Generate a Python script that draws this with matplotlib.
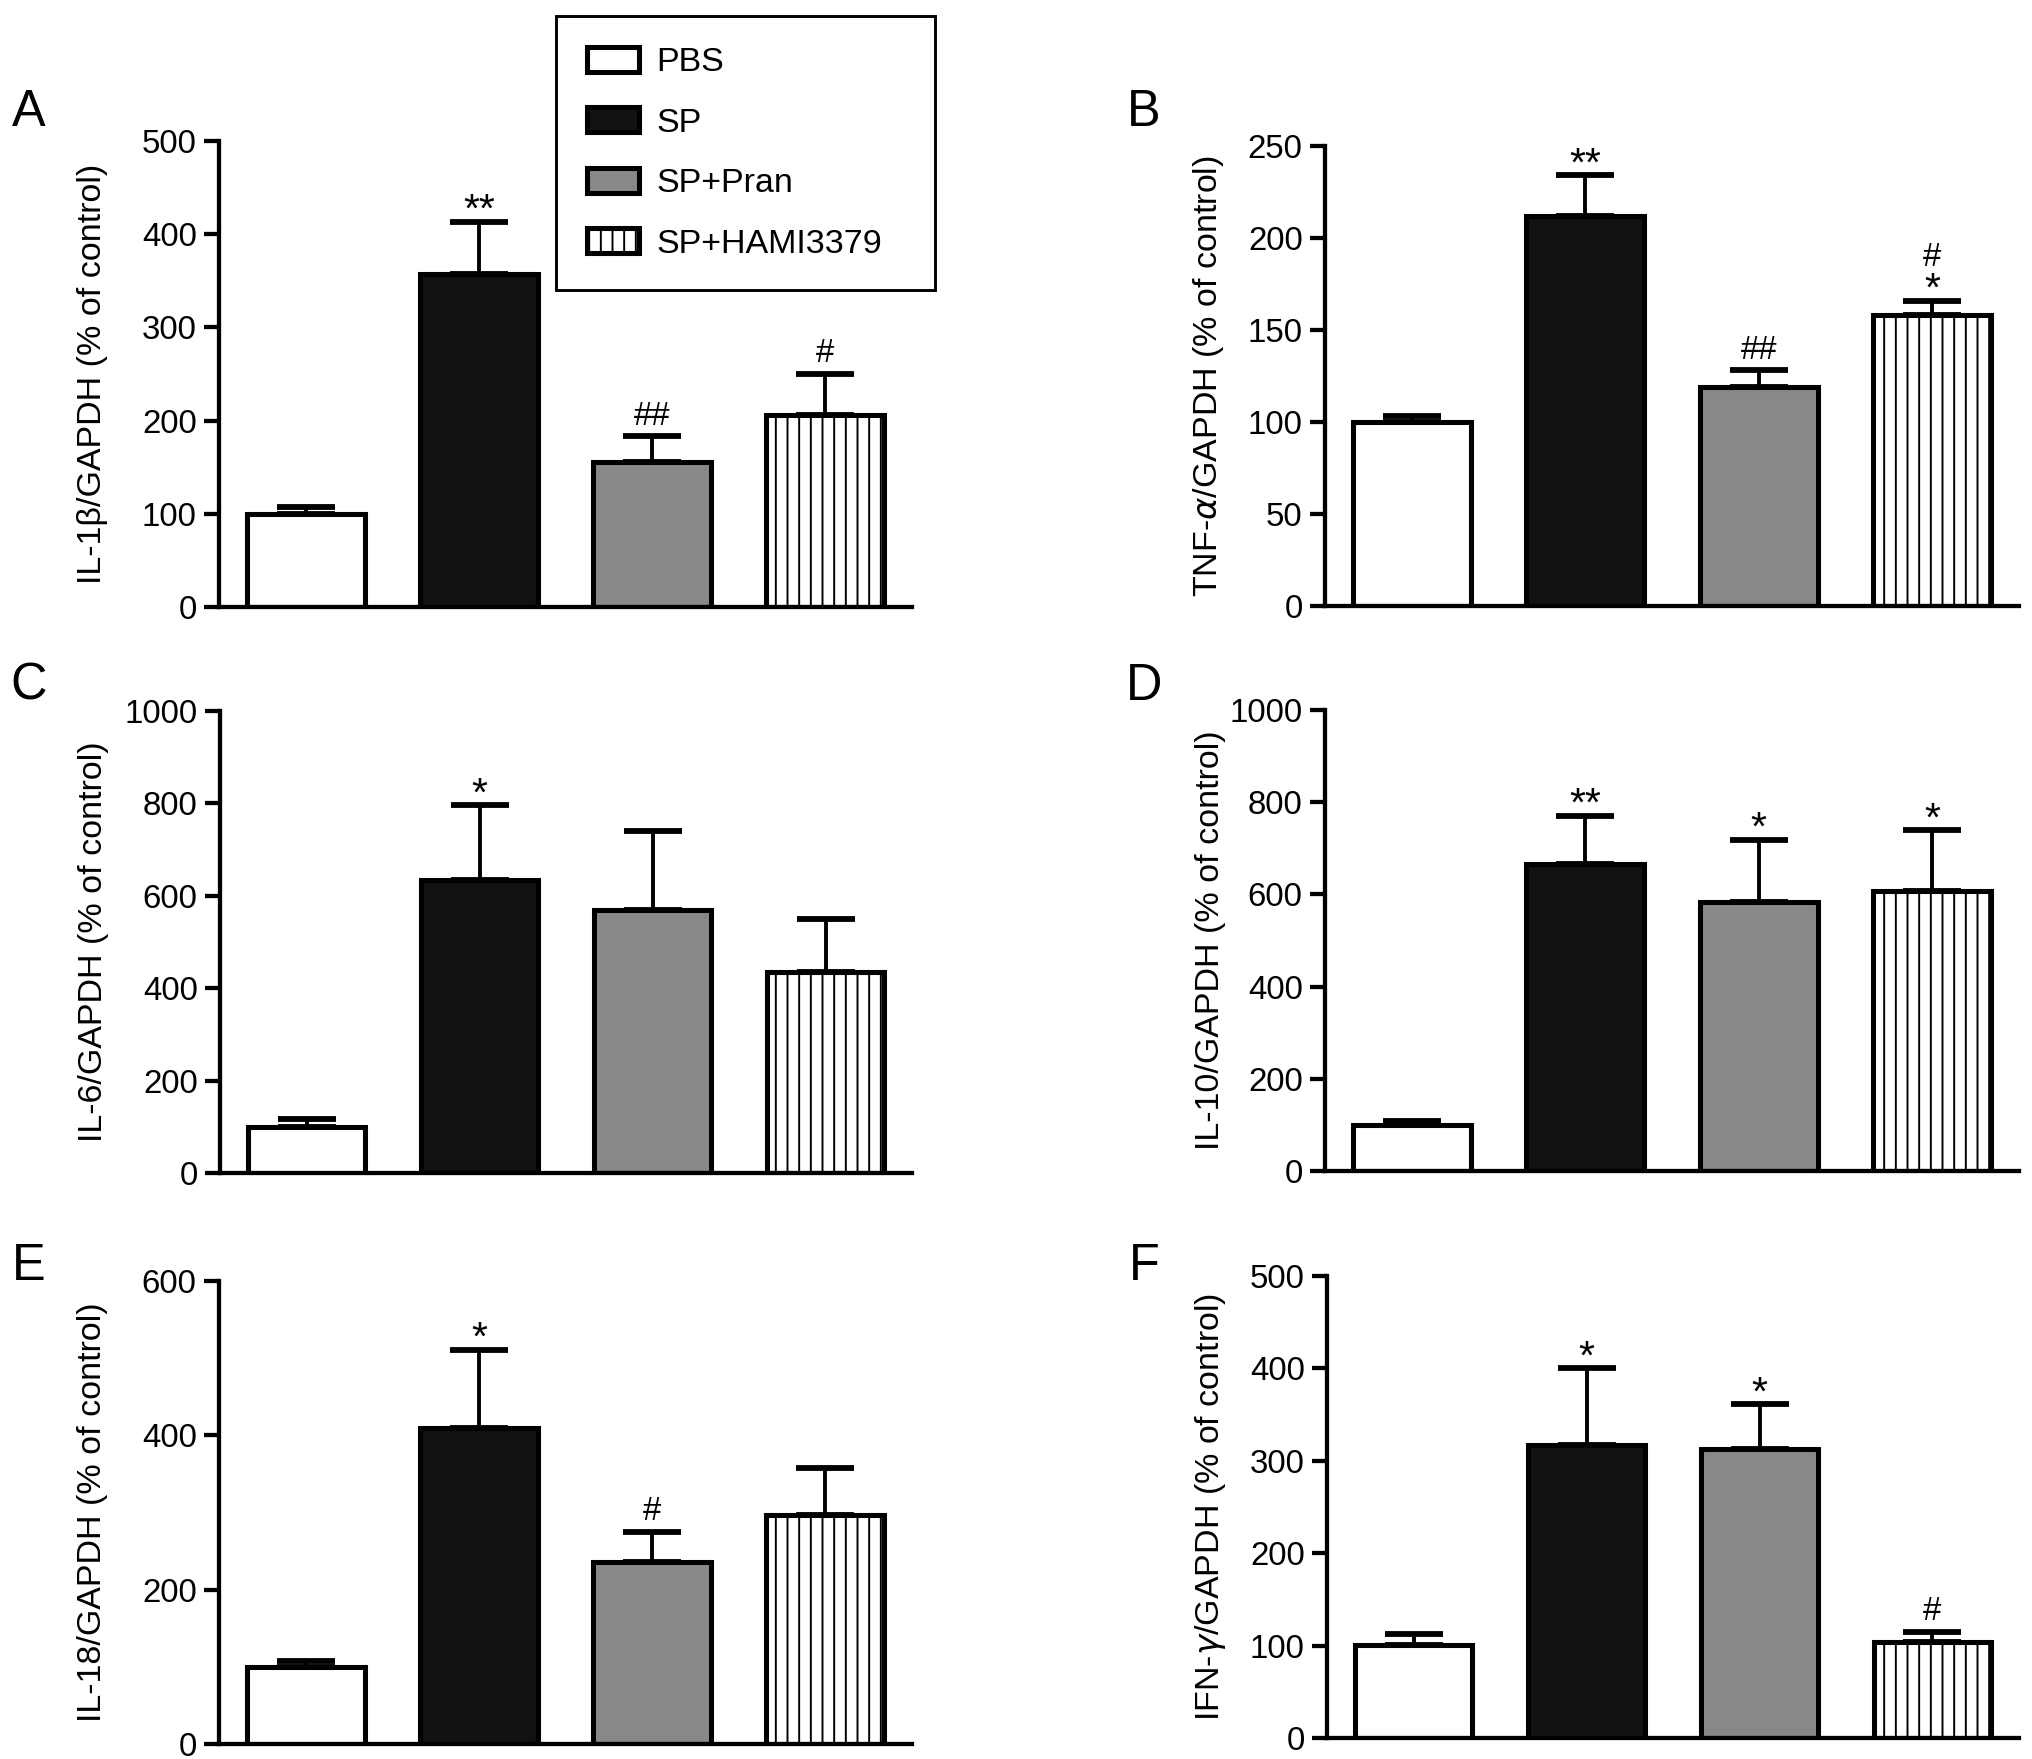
import numpy as np
import matplotlib.pyplot as plt

plt.rcParams['font.family'] = ['Liberation Sans', 'DejaVu Sans']
plt.rcParams['hatch.linewidth'] = 1.0
plt.rcParams['mathtext.fontset'] = 'dejavusans'

groups = ['PBS', 'SP', 'SP+Pran', 'SP+HAMI3379']

il1b_mean = [100, 357, 156, 206]
il1b_err = [7, 56, 27, 44]
tnf_mean = [100, 212, 119, 158]
tnf_err = [3, 22, 9, 8]
il6_mean = [100, 634, 570, 434]
il6_err = [17, 162, 171, 115]
il10_mean = [100, 667, 584, 608]
il10_err = [9, 103, 135, 131]
il18_mean = [100, 409, 236, 297]
il18_err = [8, 102, 39, 61]
ifng_mean = [101, 317, 313, 104]
ifng_err = [12, 83, 48, 11]

# significance marks, bottom line first
il1b_sig = [[], ['**'], ['##'], ['#']]
tnf_sig = [[], ['**'], ['##'], ['*', '#']]
il6_sig = [[], ['*'], [], []]
il10_sig = [[], ['**'], ['*'], ['*']]
il18_sig = [[], ['*'], ['#'], []]
ifng_sig = [[], ['*'], ['*'], ['#']]

ylabels = ['IL-1β/GAPDH (% of control)', r'TNF-$\alpha$/GAPDH (% of control)',
           'IL-6/GAPDH (% of control)', 'IL-10/GAPDH (% of control)',
           'IL-18/GAPDH (% of control)', r'IFN-$\gamma$/GAPDH (% of control)']
yticks = [np.arange(0, 501, 100), np.arange(0, 251, 50), np.arange(0, 1001, 200),
          np.arange(0, 1001, 200), np.arange(0, 601, 200), np.arange(0, 501, 100)]
letters = ['A', 'B', 'C', 'D', 'E', 'F']

means = [il1b_mean, tnf_mean, il6_mean, il10_mean, il18_mean, ifng_mean]
errs = [il1b_err, tnf_err, il6_err, il10_err, il18_err, ifng_err]
sigs = [il1b_sig, tnf_sig, il6_sig, il10_sig, il18_sig, ifng_sig]

fills = ['white', '#111111', '#888888', 'white']
hatches = [None, None, None, '||']

W, H = 2032, 1759
fig = plt.figure(figsize=(W / 140, H / 140), dpi=140)

# axes boxes in pixels: left, right, top, bottom
boxes = [(219, 912, 141, 607), (1325, 2019, 146, 606),
         (220, 912, 711, 1173), (1325, 2019, 710, 1171),
         (219, 912, 1281, 1744), (1327, 2019, 1276, 1738)]
letter_pos = [(29, 112), (1144, 113), (29, 686), (1144, 686), (29, 1266), (1144, 1266)]

x = np.arange(4)
legend_bars = None
for i in range(6):
    l, r, t, b = boxes[i]
    ax = fig.add_axes([l / W, 1 - b / H, (r - l) / W, (b - t) / H])
    bars = ax.bar(x, means[i], width=0.68, color=fills, edgecolor='black',
                  linewidth=2.6, zorder=2)
    for bar, h in zip(bars, hatches):
        if h:
            bar.set_hatch(h)
    for j, lab in enumerate(groups):
        bars[j].set_label(lab)
    if i == 0:
        legend_bars = bars
    ax.errorbar(x, means[i], yerr=[np.zeros(4), errs[i]], fmt='none', ecolor='black',
                elinewidth=2.0, capsize=15, capthick=3.0, zorder=1)
    for j in range(4):
        off = 0
        for mark in sigs[i][j]:
            star = '*' in mark
            ax.annotate(mark, (x[j], means[i][j] + errs[i][j]),
                        xytext=(0, off if star else off + 6),
                        textcoords='offset points', ha='center', va='baseline',
                        fontsize=21 if star else 17)
            off += 12
    ax.set_xlim(-0.5, 3.5)
    ax.set_ylim(0, yticks[i][-1])
    ax.set_yticks(yticks[i])
    ax.set_xticks([])
    ax.spines['top'].set_visible(False)
    ax.spines['right'].set_visible(False)
    ax.spines['left'].set_linewidth(2.2)
    ax.spines['bottom'].set_linewidth(2.2)
    ax.tick_params(axis='y', length=7.5, width=2.2, labelsize=17, pad=4)
    ax.set_ylabel(ylabels[i], fontsize=17.5)
    ax.yaxis.set_label_coords(-0.16 if i % 2 == 0 else -0.143, 0.5)
    fig.text(letter_pos[i][0] / W, 1 - letter_pos[i][1] / H, letters[i],
             fontsize=26, ha='center', va='center')

leg = fig.legend(handles=list(legend_bars), loc='upper left',
                 bbox_to_anchor=(556 / W, 1 - 284 / H, 379 / W, 268 / H),
                 mode='expand', borderaxespad=0, fontsize=17.5,
                 handlelength=1.55, handleheight=0.77, handletextpad=0.5,
                 labelspacing=0.85, borderpad=0.9, fancybox=False,
                 edgecolor='black', framealpha=1)
leg.get_frame().set_linewidth(1.5)

fig.savefig('out.png', dpi=140)
